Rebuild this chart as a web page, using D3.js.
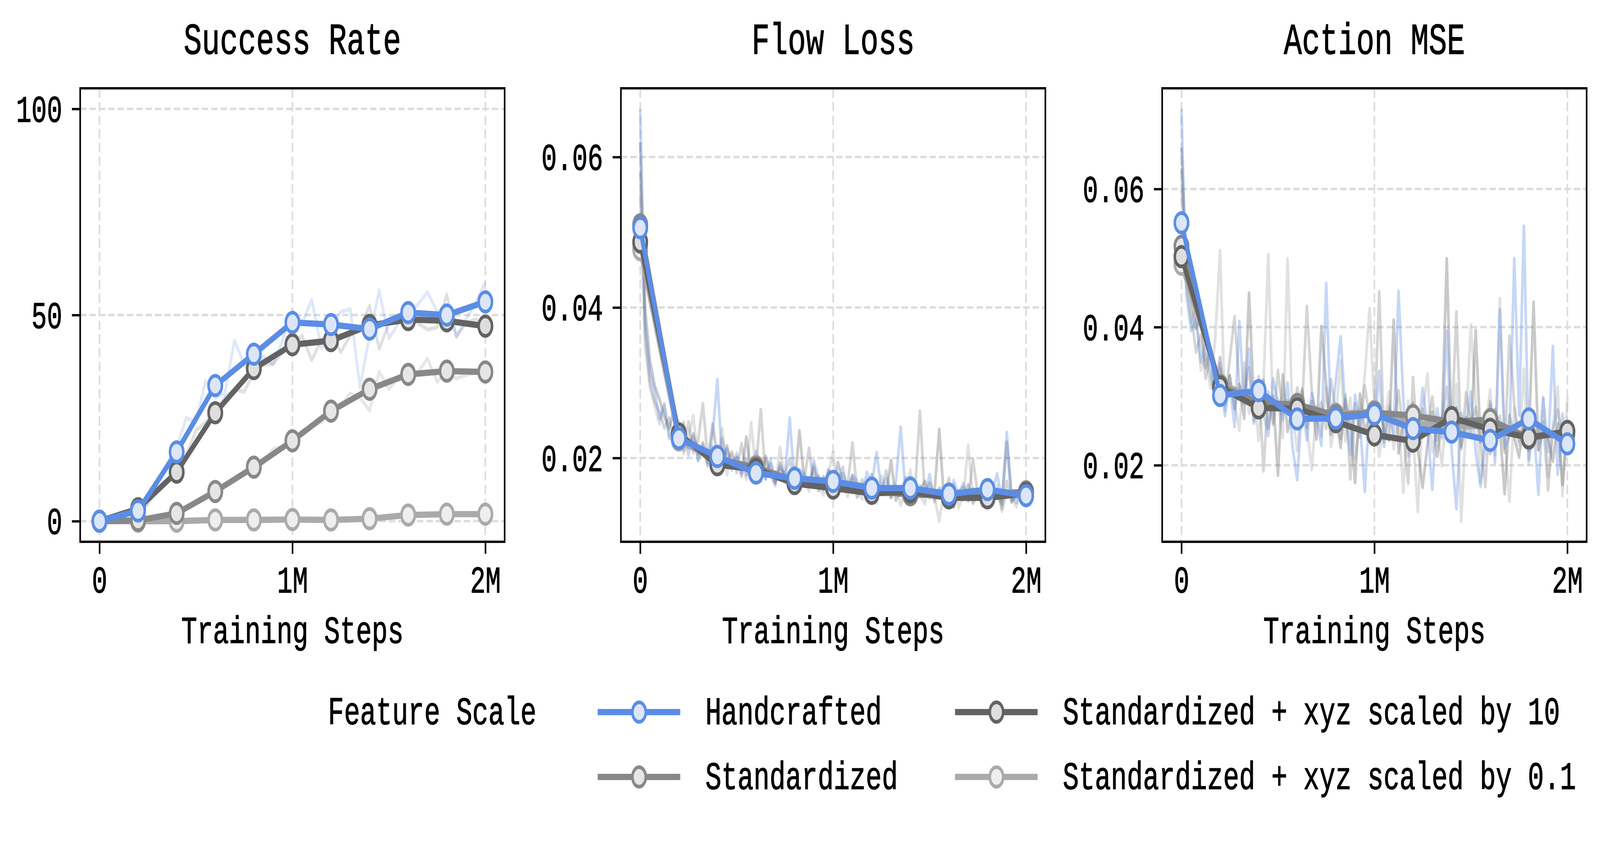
<!DOCTYPE html>
<html>
<head>
<meta charset="utf-8">
<script src="https://cdn.jsdelivr.net/npm/d3@7"></script>
<style>
  html, body { margin: 0; padding: 0; background: #ffffff; overflow: hidden; }
  svg { display: block; }
  text { font-family: "Liberation Mono", "DejaVu Sans Mono", monospace; fill: #000; stroke: #000; stroke-width: 1.6px; }
</style>
</head>
<body>
<svg id="chart" viewBox="0 0 5986 2153" preserveAspectRatio="none"></svg>
<script>
// ---- data ----
var SERIES = ["Handcrafted", "Standardized", "Standardized + xyz scaled by 10", "Standardized + xyz scaled by 0.1"];
var LEGEND_TITLE = "Feature Scale";
var PANEL_TITLES = ["Success Rate", "Flow Loss", "Action MSE"];
var X_LABEL = "Training Steps";
var X_TICKS = [0, 1000000, 2000000];
var X_TICK_LABELS = ["0", "1M", "2M"];
var MARKER_STEPS = [0, 200000, 400000, 600000, 800000, 1000000, 1200000, 1400000, 1600000, 1800000, 2000000];

// success rate (%), evaluation points
var successHand = [0, 2.5, 16.8, 32.9, 40.5, 48.2, 47.7, 46.6, 50.6, 50.0, 53.2];
var successStd  = [0, 0.2, 1.9, 7.2, 13.1, 19.5, 26.7, 32.0, 35.6, 36.4, 36.2];
var successX10  = [0, 3.0, 11.9, 26.3, 37.0, 42.8, 43.8, 47.5, 48.9, 48.6, 47.3];
var successX01  = [0, 0, 0, 0.3, 0.3, 0.4, 0.3, 0.6, 1.5, 1.7, 1.7];
// raw success rate, every 50k steps
var successRawHand = [0,0.5,1,2,3,6,9,14,18,25,24,34,30,31,43.8,38,35,40,38,44,51,48,53.7,42,47,50.8,51.4,32.5,45,56,44.4,48,50,52.5,55.6,50.8,52,44.8,49,53,58];
var successRawStd  = [0,0,0,0.3,0.2,0.5,0.8,1.5,2,3,4.5,6,7,8.5,10.5,12,13,14,17.5,18,19.5,22,23,24,26,28,31,30,26.8,36.3,32,35,35.5,36,39.5,33.8,36.5,34.6,35.5,36,36.2];
var successRawX10  = [0,0.5,1,2,3,4,8,10,12,16,22,24,27,30,32,31.4,36,38,38.2,41,43,45,39,44,46,41,45,47,52.2,41.8,48,49,50,48,46.5,47,55,44.8,48,49,47];
var successRawX01  = [0,0,0,0,0,0,0,0,0,0,0,0.2,0.3,0.3,0.2,0.3,0.4,0.3,0.3,0.5,0.4,0.3,0.2,0.2,0.3,0.1,0.3,0.5,0.6,0.8,1.0,1.2,1.3,1.5,1.8,1.6,1.7,1.5,1.9,1.6,1.6];

// flow loss (x1e-3)
var flowHand = [50.6, 22.6, 20.2, 18.0, 17.3, 16.9, 16.0, 16.0, 15.2, 15.8, 15.0];
var flowStd  = [51.0, 22.9, 19.9, 18.7, 17.0, 16.4, 15.7, 15.1, 15.1, 15.2, 15.5];
var flowX10  = [48.7, 23.2, 19.1, 18.5, 16.6, 16.0, 15.3, 15.5, 14.7, 14.7, 15.3];
var flowX01  = [47.7, 22.4, 19.6, 18.9, 16.9, 16.2, 15.9, 15.3, 15.0, 15.1, 15.0];
// raw flow loss (x1e-3), every 25k steps
var flowRawHand = [66.4,38.0,31.5,28.9,25.2,27.0,22.6,24.1,21.8,23.5, 20.4,22.9,19.6,21.7,19.1,23.0,30.4,19.3,21.2,18.4, 20.6,18.0,19.8,17.4,20.9,18.6,17.2,19.9,16.8,18.9, 17.5,25.3,16.6,18.4,17.9,16.2,19.6,17.1,15.9,18.3, 17.0,16.4,18.8,15.6,17.7,16.9,15.3,18.1,16.5,20.7, 15.8,17.2,14.9,16.8,24.1,15.5,17.4,14.8,16.3,15.1, 17.8,14.6,16.0,15.7,13.9,17.0,15.2,16.6,14.3,15.9, 14.7,16.8,13.8,15.5,17.9,14.4,23.4,15.0,14.1,16.2, 15.1];
var flowRawStd  = [58.0,36.5,30.2,27.5,26.1,24.0,25.3,22.4,23.6,21.0, 24.8,20.7,22.3,27.2,19.9,21.5,18.8,22.6,19.7,20.8, 18.1,21.9,17.7,19.5,18.6,26.4,17.3,19.2,16.9,18.5, 17.8,19.9,16.4,18.0,17.1,21.3,16.1,17.6,15.8,18.4, 16.7,15.5,17.9,16.3,22.0,15.4,17.1,16.0,14.9,16.9, 15.6,18.3,14.7,16.2,15.3,17.4,14.5,15.9,26.2,15.0, 16.6,14.2,15.8,14.9,17.3,13.6,15.4,16.1,14.4,19.8, 15.2,13.8,16.4,14.7,15.6,13.3,16.9,14.1,15.5,14.6, 15.3];
var flowRawX10  = [62.0,40.1,33.0,29.6,27.8,25.5,23.9,26.4,22.1,24.7, 21.4,23.2,20.5,22.0,19.4,24.5,20.3,18.7,21.6,19.0, 20.1,17.6,22.8,18.3,19.4,17.0,20.2,18.1,16.6,19.3, 17.4,18.2,16.0,23.6,17.2,16.5,18.7,15.7,17.5,16.6, 15.2,19.4,16.8,15.9,17.6,14.8,16.5,15.4,17.8,14.6, 16.2,15.1,19.7,14.4,16.0,15.0,16.8,14.1,15.7,16.9, 14.7,15.3,23.8,14.2,16.1,13.5,15.6,14.8,16.4,14.0, 15.1,13.7,16.2,14.5,15.8,13.9,22.1,14.3,15.0,14.6, 15.2];
var flowRawX01  = [55.0,34.8,29.4,26.9,24.5,27.3,23.1,21.9,24.9,20.6, 22.7,25.6,19.8,21.2,18.9,20.7,19.2,23.9,17.8,20.5, 18.5,19.1,17.2,24.7,18.0,16.9,19.7,17.6,16.3,21.4, 17.0,15.9,18.8,16.4,17.3,15.6,19.1,16.2,15.1,17.9, 20.8,15.4,16.7,14.9,17.2,15.8,14.5,16.9,15.2,14.0, 17.6,15.5,14.8,16.3,13.7,15.9,18.4,14.6,15.2,13.9, 16.7,14.9,11.6,15.7,14.3,16.5,13.4,15.0,21.7,14.4, 15.8,13.6,15.1,14.2,16.3,12.9,15.4,14.7,13.5,15.6, 14.9];

// action mse (x1e-3)
var actionHand = [55.1, 30.1, 30.8, 26.7, 26.8, 27.4, 25.3, 24.8, 23.6, 26.7, 23.1];
var actionStd  = [51.7, 31.5, 29.0, 28.8, 27.2, 27.6, 27.2, 26.3, 26.6, 23.9, 24.9];
var actionX10  = [50.2, 31.3, 28.3, 28.2, 26.3, 24.4, 23.5, 26.9, 25.2, 24.0, 24.9];
var actionX01  = [49.1, 31.7, 29.7, 28.2, 27.4, 27.8, 26.0, 25.8, 25.6, 24.3, 24.3];
// raw action mse (x1e-3), every 25k steps
var actionRawHand = [71.6,44.8,39.5,41.2,35.0,37.6,33.1,29.4,34.7,27.2, 31.8,25.6,40.8,28.9,36.8,26.1,30.7,27.4,24.3,32.5, 29.0,26.6,31.9,22.8,17.9,28.8,23.7,30.4,27.1,22.9, 46.3,25.8,32.2,38.6,27.7,21.6,30.1,26.3,16.2,28.4, 25.1,33.6,22.7,27.9,24.6,45.2,29.3,21.4,26.8,23.5, 31.1,25.7,16.5,28.2,24.0,39.4,22.3,13.7,27.5,24.8, 30.6,21.9,17.0,23.1,28.7,20.4,42.5,22.5,24.2,49.9, 27.3,54.6,20.8,26.1,15.8,29.8,22.0,37.2,18.7,27.4, 22.6];
var actionRawStd  = [63.0,47.5,42.1,36.4,38.9,32.6,35.8,30.2,33.9,28.7, 35.3,41.5,31.6,29.8,34.1,26.5,32.8,19.2,30.6,25.9, 33.7,27.6,29.4,26.0,31.2,28.3,43.0,30.9,26.4,29.1, 25.3,32.4,27.8,23.9,30.2,18.0,28.9,24.1,31.5,27.0, 25.8,45.1,23.4,28.5,26.2,30.8,24.6,17.4,32.7,22.8, 28.1,25.5,29.9,23.7,26.4,31.3,24.9,42.2,22.4,30.5, 26.0,28.4,23.2,16.9,29.2,24.3,27.1,21.9,38.7,28.8, 23.5,25.9,22.1,27.8,24.7,26.3,16.4,25.2,28.0,23.9, 24.8];
var actionRawX10  = [66.0,49.0,44.3,39.8,41.5,34.2,37.0,31.4,35.6,29.3, 33.0,28.2,31.7,26.8,44.9,29.6,27.1,32.3,25.4,30.0, 18.6,33.1,24.9,28.6,26.3,31.0,25.5,29.2,23.8,40.1, 31.6,24.5,27.4,22.6,29.5,25.9,17.5,30.3,24.8,27.2, 22.9,28.7,25.0,23.6,41.0,21.8,26.5,24.2,29.0,22.4, 16.8,23.0,27.7,21.3,26.2,49.9,24.4,28.3,22.7,26.9, 24.1,39.5,23.4,26.7,21.7,28.1,25.3,15.9,27.2,24.0, 21.2,26.4,23.7,43.6,22.2,25.1,23.9,20.6,26.0,17.2, 25.0];
var actionRawX01  = [60.0,46.2,40.7,43.0,33.8,36.1,31.2,38.4,51.1,27.9, 32.9,29.0,25.1,34.8,27.5,30.4,23.6,31.8,50.5,26.2, 29.6,24.0,49.9,27.3,22.1,30.7,25.6,19.4,28.5,24.2, 31.2,22.7,27.0,35.1,23.5,29.7,20.9,26.6,33.0,42.7, 28.0,21.3,25.9,30.6,22.4,26.8,16.1,29.3,24.5,13.3, 27.6,33.2,22.0,25.5,19.9,28.6,23.4,31.7,11.9,26.3, 40.3,29.0,17.5,25.2,30.9,21.5,44.1,24.1,14.8,28.2, 23.0,33.9,20.2,26.5,22.3,29.6,18.4,25.7,31.3,15.6, 29.8];

var SUCCESS_TICKS = [0, 50, 100];
var LOSS_TICKS = [20, 40, 60];

// ---- styling / layout ----
var WIDTH = 5986, HEIGHT = 2153;
var COLORS = ["#5b8de6", "#888888", "#636363", "#aaaaaa"];
var FILLS  = ["#dce6f8", "#e6e6e6", "#dedede", "#eeeeee"];
var DRAW_ORDER = [3, 1, 2, 0];
var PANEL_LEFT = [300, 2323, 4348];
var PANEL_W = 1588;
var PANEL_TOP = 226, PANEL_BOTTOM = 1387;
var TICK_LEN = 31;
var LINE_W = 16, RAW_W = 10, MARKER_R = 25, MARKER_SW = 9.5;

// the drawing is laid out in 5986x2153 units and fills the window
var svg = d3.select("#chart")
  .style("width", "100vw")
  .style("height", "100vh");
svg.append("rect").attr("width", WIDTH).attr("height", HEIGHT).attr("fill", "#ffffff");

function paddedExtent(arrays)
{
  var lo = d3.min(arrays, function(a) { return d3.min(a); });
  var hi = d3.max(arrays, function(a) { return d3.max(a); });
  var pad = (hi - lo) * 0.05;
  return [lo - pad, hi + pad];
}

function stepsFor(values)
{
  // raw logs are evenly spaced over 0..2M
  return values.map(function(v, i) { return 2000000 * i / (values.length - 1); });
}

function drawPanel(p, cfg)
{
  var left = PANEL_LEFT[p];
  var x = d3.scaleLinear().domain([-100000, 2100000]).range([left, left + PANEL_W]);
  var y = d3.scaleLinear().domain(cfg.domain).range([PANEL_BOTTOM, PANEL_TOP]);
  var g = svg.append("g");

  // grid
  g.selectAll(".gx").data(X_TICKS).enter().append("line")
    .attr("x1", function(d) { return x(d); }).attr("x2", function(d) { return x(d); })
    .attr("y1", PANEL_TOP).attr("y2", PANEL_BOTTOM)
    .attr("stroke", "#dcdcdc").attr("stroke-width", 6).attr("stroke-dasharray", "24,11");
  g.selectAll(".gy").data(cfg.ticks).enter().append("line")
    .attr("y1", function(d) { return y(d); }).attr("y2", function(d) { return y(d); })
    .attr("x1", left).attr("x2", left + PANEL_W)
    .attr("stroke", "#dcdcdc").attr("stroke-width", 6).attr("stroke-dasharray", "24,11");

  // raw traces
  DRAW_ORDER.forEach(function(s) {
    var vals = cfg.raw[s];
    var xs = stepsFor(vals);
    var line = d3.line().x(function(d, i) { return x(xs[i]); }).y(function(d) { return y(d); });
    g.append("path").datum(vals)
      .attr("d", line)
      .attr("fill", "none")
      .attr("stroke", COLORS[s])
      .attr("stroke-opacity", cfg.rawOpacity)
      .attr("stroke-width", RAW_W)
      .attr("stroke-linejoin", "round");
  });

  // evaluation lines with markers
  DRAW_ORDER.forEach(function(s) {
    var vals = cfg.main[s];
    var line = d3.line().x(function(d, i) { return x(MARKER_STEPS[i]); }).y(function(d) { return y(d); });
    g.append("path").datum(vals)
      .attr("d", line)
      .attr("fill", "none")
      .attr("stroke", COLORS[s])
      .attr("stroke-width", LINE_W)
      .attr("stroke-linejoin", "round");
    g.selectAll(".m" + s).data(vals).enter().append("circle")
      .attr("cx", function(d, i) { return x(MARKER_STEPS[i]); })
      .attr("cy", function(d) { return y(d); })
      .attr("r", MARKER_R)
      .attr("fill", FILLS[s])
      .attr("stroke", COLORS[s])
      .attr("stroke-width", MARKER_SW);
  });

  // frame
  g.append("rect")
    .attr("x", left).attr("y", PANEL_TOP)
    .attr("width", PANEL_W).attr("height", PANEL_BOTTOM - PANEL_TOP)
    .attr("fill", "none").attr("stroke", "#000").attr("stroke-width", 6);

  // axes
  var xAxis = d3.axisBottom(x).tickValues(X_TICKS)
    .tickFormat(function(d, i) { return X_TICK_LABELS[i]; })
    .tickSize(TICK_LEN).tickPadding(36);
  var xg = g.append("g").attr("transform", "translate(0," + PANEL_BOTTOM + ")").call(xAxis);
  var yAxis = d3.axisLeft(y).tickValues(cfg.ticks).tickFormat(cfg.fmt)
    .tickSize(TICK_LEN).tickPadding(36);
  var yg = g.append("g").attr("transform", "translate(" + left + ",0)").call(yAxis);
  [xg, yg].forEach(function(a) {
    a.select(".domain").remove();
    a.selectAll(".tick line").attr("stroke", "#000").attr("stroke-width", 6);
    a.selectAll(".tick text").attr("font-size", "96px").attr("fill", "#000")
      .attr("stroke", "#000").attr("stroke-width", 1.6)
      .style("font-family", "'Liberation Mono', monospace");
  });
  xg.selectAll(".tick text").attr("dy", null).attr("y", 130);
  yg.selectAll(".tick text").attr("dy", "0.34em");

  // title and x label
  g.append("text").text(PANEL_TITLES[p])
    .attr("x", left + PANEL_W / 2).attr("y", 138)
    .attr("text-anchor", "middle").attr("font-size", "113px");
  g.append("text").text(X_LABEL)
    .attr("x", left + PANEL_W / 2).attr("y", 1646)
    .attr("text-anchor", "middle").attr("font-size", "99px");
}

function fmtLoss(d) { return (d / 1000).toFixed(2); }

drawPanel(0, {
  domain: [-5, 105], ticks: SUCCESS_TICKS, fmt: function(d) { return String(d); },
  main: [successHand, successStd, successX10, successX01],
  raw: [successRawHand, successRawStd, successRawX10, successRawX01],
  rawOpacity: 0.2
});
var flowRaw = [flowRawHand, flowRawStd, flowRawX10, flowRawX01];
var flowMain = [flowHand, flowStd, flowX10, flowX01];
drawPanel(1, {
  domain: paddedExtent(flowRaw.concat(flowMain)), ticks: LOSS_TICKS, fmt: fmtLoss,
  main: flowMain, raw: flowRaw, rawOpacity: 0.35
});
var actionRaw = [actionRawHand, actionRawStd, actionRawX10, actionRawX01];
var actionMain = [actionHand, actionStd, actionX10, actionX01];
drawPanel(2, {
  domain: paddedExtent(actionRaw.concat(actionMain)), ticks: LOSS_TICKS, fmt: fmtLoss,
  main: actionMain, raw: actionRaw, rawOpacity: 0.35
});

// legend
var legend = svg.append("g");
legend.append("text").text(LEGEND_TITLE)
  .attr("x", 1227).attr("y", 1854).attr("font-size", "100px");
var LEG_COL_X = [2236, 3573];
var LEG_ROW_Y = [1823, 1989];
SERIES.forEach(function(name, s) {
  var col = Math.floor(s / 2), row = s % 2;
  var lx = LEG_COL_X[col], ly = LEG_ROW_Y[row];
  legend.append("line")
    .attr("x1", lx).attr("x2", lx + 309).attr("y1", ly).attr("y2", ly)
    .attr("stroke", COLORS[s]).attr("stroke-width", LINE_W);
  legend.append("circle")
    .attr("cx", lx + 155).attr("cy", ly).attr("r", MARKER_R)
    .attr("fill", FILLS[s]).attr("stroke", COLORS[s]).attr("stroke-width", MARKER_SW);
  legend.append("text").text(name)
    .attr("x", lx + 403).attr("y", ly + 31).attr("font-size", "100px");
});
</script>
</body>
</html>
